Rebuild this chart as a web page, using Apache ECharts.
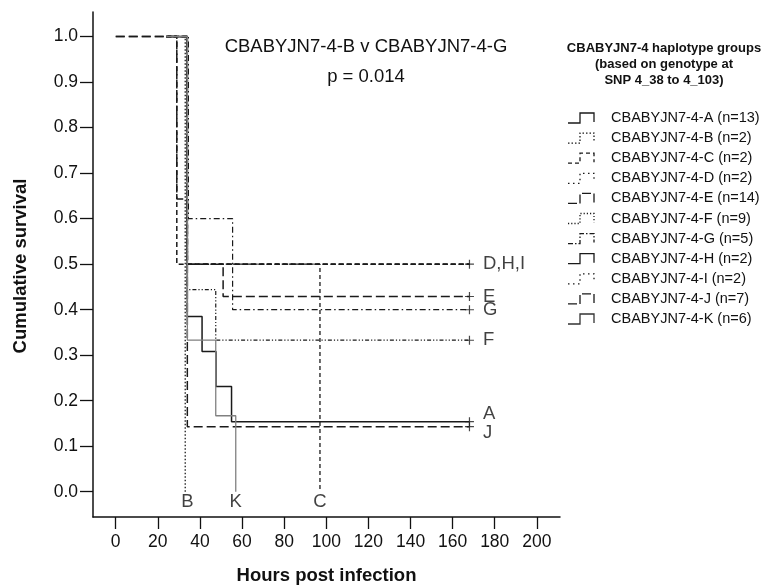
<!DOCTYPE html>
<html><head><meta charset="utf-8">
<script src="https://cdn.jsdelivr.net/npm/echarts@6/dist/echarts.min.js"></script>
<style>html,body{margin:0;padding:0;background:#fff}#c{width:771px;height:587px}</style>
</head><body><div id="c"></div>
<script>
// ---- data ----
const groupNames = ['CBABYJN7-4-A (n=13)','CBABYJN7-4-B (n=2)','CBABYJN7-4-C (n=2)','CBABYJN7-4-D (n=2)','CBABYJN7-4-E (n=14)','CBABYJN7-4-F (n=9)','CBABYJN7-4-G (n=5)','CBABYJN7-4-H (n=2)','CBABYJN7-4-I (n=2)','CBABYJN7-4-J (n=7)','CBABYJN7-4-K (n=6)'];
const curveA = [[24,1],[34,0.385],[41,0.308],[47.6,0.231],[55,0.154],[168,0.154]];
const curveB = [[24,1],[33,0.5],[33,0]];
const curveC = [[24,1],[34,0.5],[97,0.5],[97,0]];
const curveD = [[24,1],[34,0.5],[168,0.5]];
const curveE = [[0,1],[29,0.643],[34,0.5],[51,0.429],[168,0.429]];
const curveF = [[24,1],[34,0.444],[47.5,0.333],[168,0.333]];
const curveG = [[24,1],[34.5,0.6],[55.5,0.4],[168,0.4]];
const curveH = [[24,1],[29,0.5],[168,0.5]];
const curveI = [[24,1],[34,0.5],[168,0.5]];
const curveJ = [[0,1],[34,0.143],[168,0.143]];
const curveK = [[24,1],[34,0.333],[47.5,0.167],[57,0]];
const curves = [curveA,curveB,curveC,curveD,curveE,curveF,curveG,curveH,curveI,curveJ,curveK];
const censorPoints = [[168,0.154,'A'],[168,0.143,'J'],[168,0.5,'D,H,I'],[168,0.429,'E'],[168,0.4,'G'],[168,0.333,'F']];
const deathLabels = [[34,0,'B'],[57,0,'K'],[97,0,'C']];
const xTicks = [0,20,40,60,80,100,120,140,160,180,200];
const yTicks = [0,0.1,0.2,0.3,0.4,0.5,0.6,0.7,0.8,0.9,1.0];
const titleText = 'CBABYJN7-4-B v CBABYJN7-4-G';
const pText = 'p = 0.014';
const legendTitle = ['CBABYJN7-4 haplotype groups','(based on genotype at','SNP 4_38 to 4_103)'];

// ---- styles ----
const styles = [
  {c:'#1a1a1a', t:'solid', w:1.5},
  {c:'#1a1a1a', t:[1.5,2], w:1.3},
  {c:'#1a1a1a', t:[4,3], w:1.3},
  {c:'#1a1a1a', t:[5,3], w:1.5},
  {c:'#1a1a1a', t:[9,4], w:1.5},
  {c:'#1a1a1a', t:[1.2,2,1.2,2,4,2], w:1.2},
  {c:'#1a1a1a', t:[6,3,1.5,3], w:1.2},
  {c:'#1a1a1a', t:[5,3], w:1.5},
  {c:'#1a1a1a', t:[5,3], w:1.5},
  {c:'#1a1a1a', t:[9,4], w:1.5},
  {c:'#808080', t:'solid', w:1.3}
];
const legendStyles = [
  {c:'#1a1a1a', t:null}, {c:'#1a1a1a', t:[1.5,2]}, {c:'#1a1a1a', t:[4,3]}, {c:'#1a1a1a', t:[1.5,3.5]},
  {c:'#1a1a1a', t:[9,3]}, {c:'#1a1a1a', t:[1.2,2]}, {c:'#1a1a1a', t:[5,2,1.5,2]}, {c:'#1a1a1a', t:null},
  {c:'#1a1a1a', t:[1.5,3.5]}, {c:'#1a1a1a', t:[9,3]}, {c:'#333', t:null}
];
const labelOffsets = {'A':[0,-8],'J':[0,6]};
const FONT = 'Liberation Sans, Arial, sans-serif';

const series = curves.map((d,i)=>({
  type:'line', name:groupNames[i], data:d, step:'end', showSymbol:false, symbol:'none',
  lineStyle:{color:styles[i].c, type:styles[i].t, width:styles[i].w}, silent:true, animation:false, z:2+i
}));
series.push({
  type:'scatter', data:censorPoints.map(p=>({value:[p[0],p[1]], label:{offset:labelOffsets[p[2]]||[0,0]}, name:p[2]})),
  symbol:'path://M-0.6,-5H0.6V5H-0.6Z M-4.5,-0.6H4.5V0.6H-4.5Z', symbolSize:[9,9],
  itemStyle:{color:'#1a1a1a'},
  label:{show:true, position:'right', distance:9, formatter:p=>p.name, fontFamily:FONT, fontSize:18.5, color:'#111'},
  animation:false, silent:true, z:20
});
series.push({
  type:'scatter', data:deathLabels.map(p=>({value:[p[0],p[1]], name:p[2]})), symbolSize:0,
  label:{show:true, position:'bottom', distance:1, formatter:p=>p.name, fontFamily:FONT, fontSize:18.5, color:'#111'},
  animation:false, silent:true
});

const g = [];
g.push({type:'text', style:{text:titleText, x:366, y:47, textAlign:'center', textVerticalAlign:'middle', font:'18.5px '+FONT, fill:'#111'}});
g.push({type:'text', style:{text:pText, x:366, y:77, textAlign:'center', textVerticalAlign:'middle', font:'18.5px '+FONT, fill:'#111'}});
legendTitle.forEach((s,i)=>g.push({type:'text', style:{text:s, x:664, y:48+i*16, textAlign:'center', textVerticalAlign:'middle', font:'bold 13px '+FONT, fill:'#111'}}));
groupNames.forEach((s,i)=>{
  const y = 118 + i*20.1;
  g.push({type:'polyline', shape:{points:[[568,y+5],[580,y+5],[580,y-5],[594,y-5],[594,y+4]]},
    style:{stroke:legendStyles[i].c, lineWidth:1.3, fill:null, lineDash:legendStyles[i].t}});
  g.push({type:'text', style:{text:s, x:611, y:y, textAlign:'left', textVerticalAlign:'middle', font:'14.5px '+FONT, fill:'#111'}});
});
g.push({type:'text', x:21, y:266, rotation:Math.PI/2, style:{text:'Cumulative survival', x:0, y:0, textAlign:'center', textVerticalAlign:'middle', font:'bold 18.5px '+FONT, fill:'#111'}});

const chart = echarts.init(document.getElementById('c'), null, {renderer:'canvas'});
chart.setOption({
  animation:false,
  backgroundColor:'#fff',
  grid:{left:93, top:12, right:211, bottom:70, containLabel:false, outerBoundsMode:'none'},
  xAxis:{type:'value', min:-10.8, max:211, name:'Hours post infection', nameLocation:'middle', nameGap:49,
    nameTextStyle:{fontFamily:FONT, fontSize:18.5, fontWeight:'bold', color:'#111'},
    axisLine:{onZero:false, lineStyle:{color:'#111', width:1.5}},
    axisTick:{customValues:xTicks, length:12, lineStyle:{color:'#111', width:1.3}},
    axisLabel:{customValues:xTicks, margin:16, fontFamily:FONT, fontSize:17.5, color:'#111'},
    splitLine:{show:false}},
  yAxis:{type:'value', min:-0.0555, max:1.054,
    axisLine:{show:true, onZero:false, lineStyle:{color:'#111', width:1.5}},
    axisTick:{show:true, customValues:yTicks, length:13, lineStyle:{color:'#111', width:1.3}},
    axisLabel:{customValues:yTicks, margin:15, formatter:v=>v.toFixed(1), fontFamily:FONT, fontSize:17.5, color:'#111'},
    splitLine:{show:false}},
  series:series,
  graphic:g
});
</script></body></html>
